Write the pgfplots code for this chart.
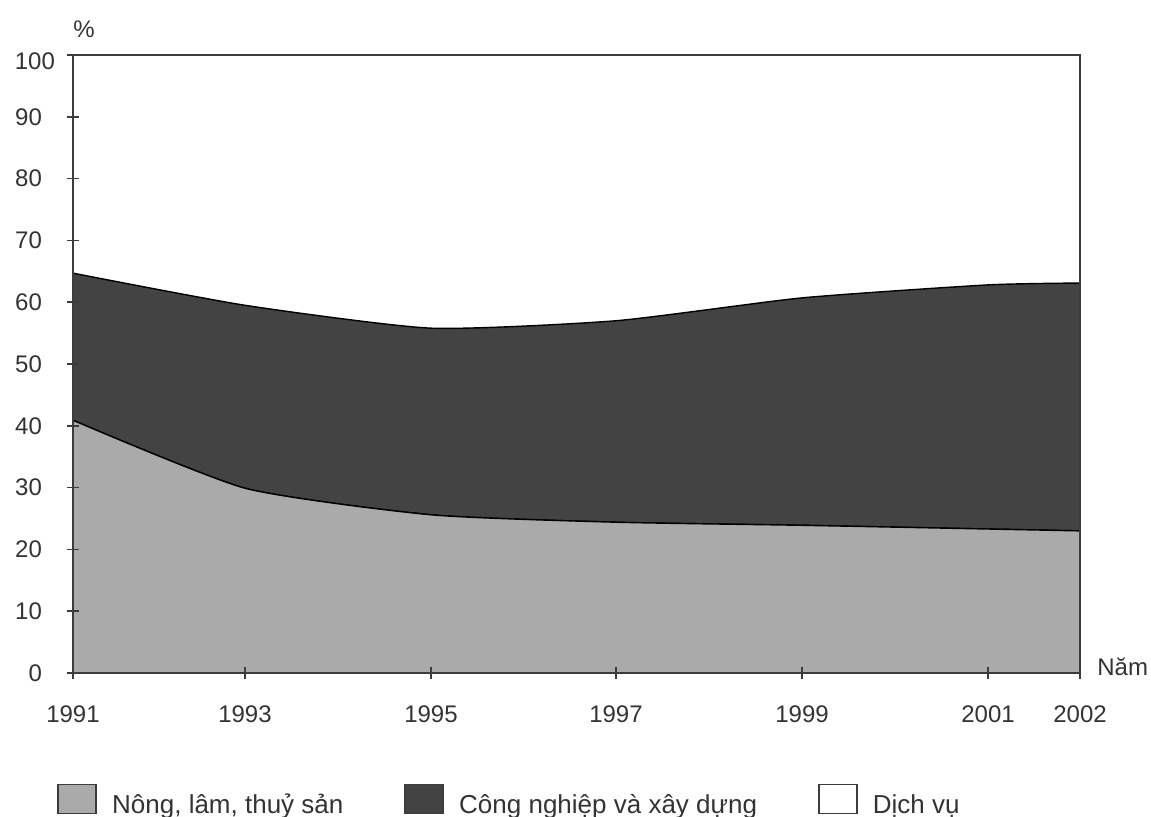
\documentclass[border=0pt]{standalone}
\usepackage{fontspec}
\setmainfont{Liberation Sans}
\usepackage{pgfplots}
\pgfplotsset{compat=1.18}
\definecolor{agri}{HTML}{AAAAAA}
\definecolor{ind}{HTML}{434343}
\definecolor{axc}{HTML}{3C3C3C}
\definecolor{txt}{HTML}{333333}
\begin{document}
\begin{tikzpicture}
\begin{axis}[
  name=ax, scale only axis, width=503.5pt, height=309pt,
  xmin=0, xmax=1007, ymin=0, ymax=100,
  stack plots=y,
  axis on top,
  axis line style={draw=axc, line width=1.2pt},
  xtick={0,172,358,543,729,915,1007},
  xticklabels={1991,1993,1995,1997,1999,2001,2002},
  ytick={0,10,...,90},
  extra y ticks={100},
  extra y tick style={yticklabel style={xshift=6.5pt, yshift=-3pt}},
  tick align=center, major tick length=6pt,
  xtick pos=bottom, ytick pos=left,
  tick style={draw=axc, line width=0.8pt},
  ticklabel style={font=\fontsize{12}{14}\selectfont, text=txt},
  /pgf/number format/assume math mode=true,
  yticklabel style={anchor=east, xshift=-9pt},
  xticklabel style={anchor=north, yshift=-10pt},
  legend columns=3,
  legend style={draw=none, fill=none, inner sep=0pt,
    at={(axis description cs:-0.0159,-0.2055)}, anchor=west,
    font=\fontsize{13}{15}\selectfont, text=txt,
    nodes={inner sep=0pt},
    cells={anchor=base west},
    /tikz/every odd column/.append style={column sep=7.5pt},
    /tikz/every even column/.append style={column sep=30.5pt}},
  legend image code/.code={\draw[#1, draw=axc, line width=0.9pt] (0pt,0pt) rectangle (19pt,14.5pt);},
]
\addplot[fill=agri, draw=black, line width=0.7pt, smooth, tension=0.35]
  coordinates {(0,40.9) (172,29.9) (358,25.6) (543,24.4) (729,23.9) (915,23.3) (1007,23.0)} \closedcycle;
\addlegendentry{Nông, lâm, thuỷ sản}
\addplot[fill=ind, draw=black, line width=0.7pt, smooth, tension=0.35]
  coordinates {(0,23.8) (172,29.6) (358,30.2) (543,32.6) (729,36.8) (915,39.5) (1007,40.1)} \closedcycle;
\addlegendentry{Công nghiệp và xây dựng}
\addplot[fill=white, draw=none, smooth, tension=0.35]
  coordinates {(0,35.3) (172,40.5) (358,44.2) (543,43.0) (729,39.3) (915,37.2) (1007,36.9)} \closedcycle;
\addlegendentry{Dịch vụ}
\end{axis}
\node[anchor=base west, inner sep=0pt, font=\fontsize{12}{14}\selectfont, text=txt] at ([yshift=8.5pt]ax.north west) {\%};
\node[anchor=base west, inner sep=0pt, font=\fontsize{12}{14}\selectfont, text=txt] at ([xshift=8.5pt,yshift=-1pt]ax.south east) {Năm};
\pgfresetboundingbox
\path[use as bounding box] ([xshift=-36.5pt,yshift=-71.5pt]ax.south west) rectangle ([xshift=35.5pt,yshift=27.5pt]ax.north east);
\end{tikzpicture}
\end{document}
